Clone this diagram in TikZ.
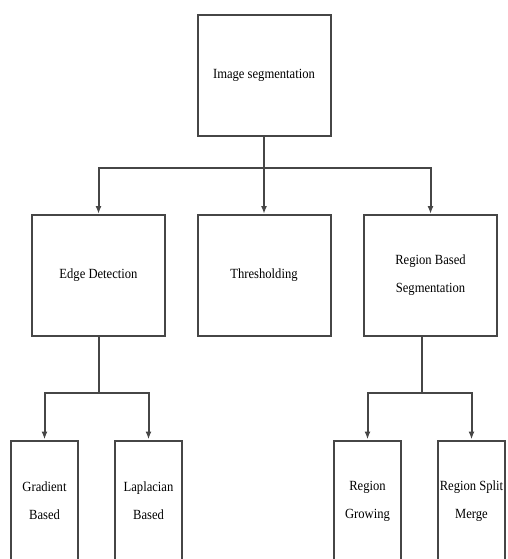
\documentclass[tikz,border=0pt]{standalone}
\usepackage{fontspec}
\setmainfont{Liberation Serif}[FakeStretch=0.9]
\usepackage{tikz}
\usetikzlibrary{arrows,arrows.meta,positioning}
\definecolor{mylinegray}{RGB}{70,70,70}
\tikzstyle{block}=[draw=mylinegray,line width=2pt,rectangle,inner sep=0pt,align=center,font=\fontsize{14}{28}\selectfont]
\tikzstyle{link}=[draw=mylinegray,line width=2pt]
\begin{document}
\begin{tikzpicture}[
  x=1pt, y=-1pt,
  >={Latex[length=8pt,width=6pt]},
  big/.style={block, minimum width=133pt, minimum height=121pt},
  small/.style={block, minimum width=67pt, minimum height=121pt},
]
\clip (0,0) rectangle (507,559);
\node [big] (root) at (264,75.5) {Image segmentation};
\node [big] (edge) at (98.5,275.5) {Edge Detection};
\node [big] (thresh) at (264,275.5) {Thresholding};
\node [big] (region) at (430.5,275.5) {Region Based\\Segmentation};
\node [small] (gradient) at (44.5,501) {Gradient\\Based};
\node [small] (laplacian) at (148.5,501) {Laplacian\\Based};
\node [small] (growing) at (367.5,501) {Region\\Growing};
\node [small] (split) at (471.5,501) {Region Split\\Merge};

\coordinate (topfork) at (264,168);
\coordinate (leftfork) at (98.5,393);
\coordinate (rightfork) at (422,393);

\draw [link] (root) -- (topfork);
\draw [link,->] (topfork) -| (edge.north);
\draw [link,->] (topfork) -- (thresh);
\draw [link,->] (topfork) -| (region.north);

\draw [link] (edge) -- (leftfork);
\draw [link,->] (leftfork) -| (gradient.north);
\draw [link,->] (leftfork) -| (laplacian.north);

\draw [link] (region.south -| rightfork) -- (rightfork);
\draw [link,->] (rightfork) -| (growing.north);
\draw [link,->] (rightfork) -| (split.north);
\end{tikzpicture}
\end{document}
